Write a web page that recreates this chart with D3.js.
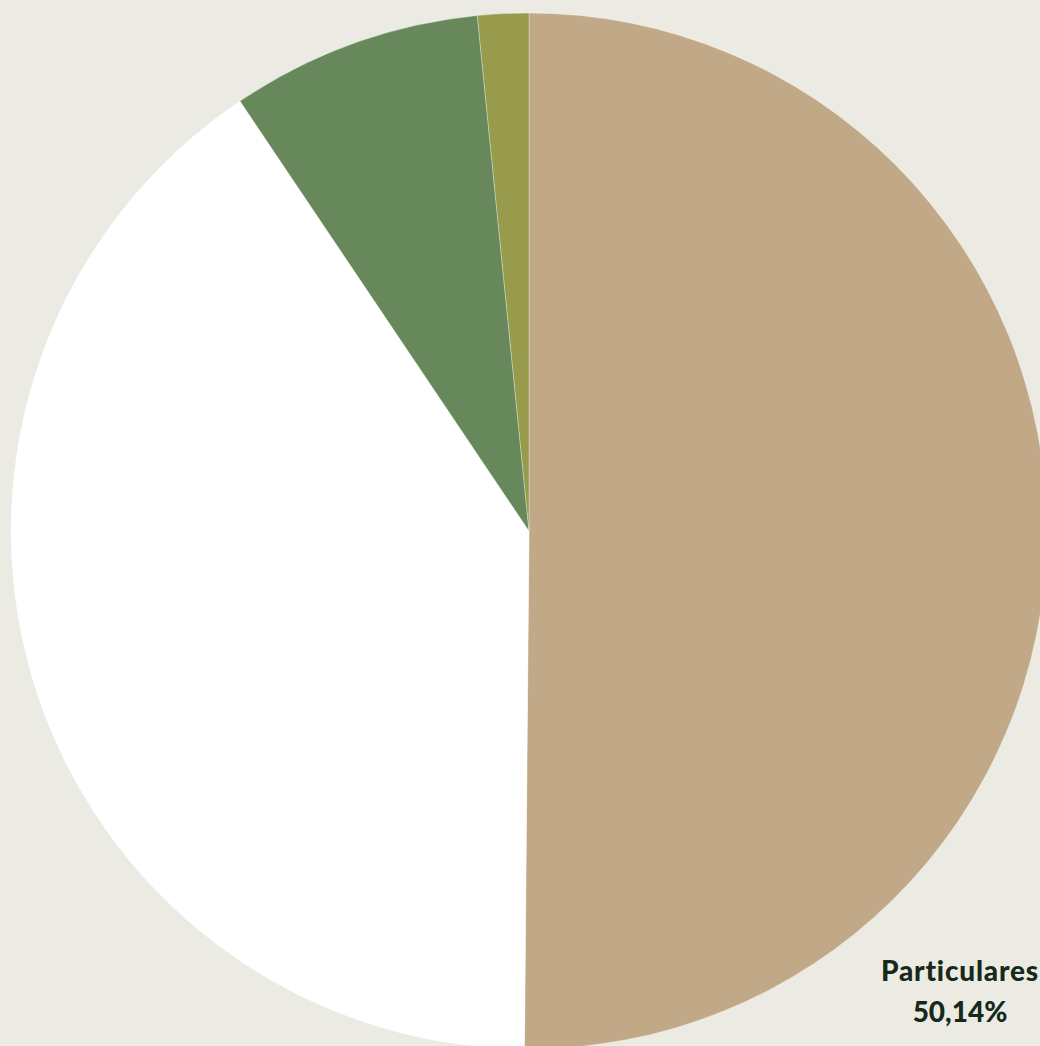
<!DOCTYPE html>
<html>
<head>
<meta charset="utf-8">
<script src="https://cdn.jsdelivr.net/npm/d3@7"></script>
<style>
html,body{margin:0;padding:0;background:#EBEBE3;overflow:hidden;}
svg{display:block;}
</style>
</head>
<body>
<svg id="chart" width="1040" height="1046"></svg>
<script>
const categories = ["Particulares", "Categoría 2", "Categoría 3", "Categoría 4"];
const values = [50.14, 40.44, 7.83, 1.59];
const colors = ["#C1A988", "#FFFFFF", "#66885A", "#989A4C"];
const shownLabels = ["Particulares"];
const valueLabels = ["50,14%"];

const W = 1040, H = 1046;
const cx = 529, cy = 531, R = 518;
const svg = d3.select("#chart");
svg.append("rect").attr("width", W).attr("height", H).attr("fill", "#EBEBE3");

const data = categories.map((c, i) => ({cat: c, value: values[i], color: colors[i]}));
const pie = d3.pie().sort(null).value(d => d.value);
const arc = d3.arc().innerRadius(0).outerRadius(R);
const g = svg.append("g").attr("transform", `translate(${cx},${cy})`);
const arcs = pie(data);
g.selectAll("path").data(arcs).join("path")
  .attr("d", arc)
  .attr("fill", d => d.data.color)
  .attr("stroke", "#ffffff")
  .attr("stroke-width", 0.6)
  .attr("stroke-opacity", 0.5);

arcs.forEach((a, i) => {
  if (!shownLabels.includes(a.data.cat)) return;
  const t = g.append("text")
    .attr("text-anchor", "middle")
    .attr("font-family", "Lato, 'Open Sans', sans-serif")
    .attr("font-weight", "900")
    .attr("font-size", 28)
    .attr("fill", "#16291A")
    .attr("x", 960 - cx).attr("y", 981 - cy);
  t.append("tspan").attr("x", 960 - cx).attr("dy", 0)
    .attr("letter-spacing", 0.8).text(a.data.cat);
  t.append("tspan").attr("x", 960 - cx).attr("dy", 41).text(valueLabels[i]);
});
</script>
</body>
</html>
